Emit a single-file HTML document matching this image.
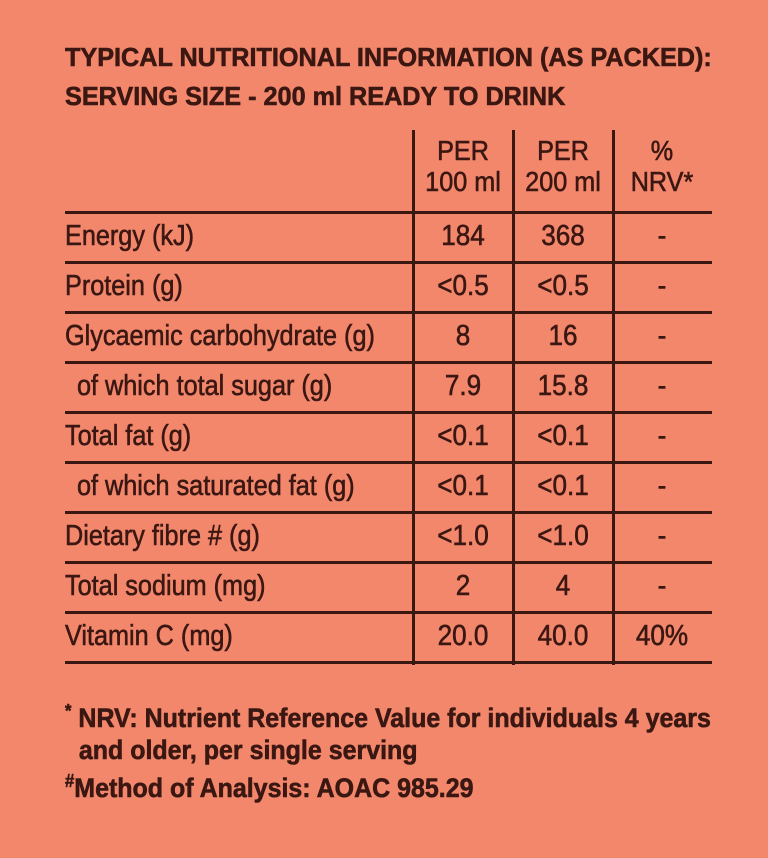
<!DOCTYPE html>
<html><head><meta charset="utf-8"><style>
body{margin:0;width:768px;height:858px;background:#f2876c;overflow:hidden;position:relative;font-family:"Liberation Sans",sans-serif;color:#3b1712}
.t{position:absolute;white-space:nowrap;transform-origin:0 50%;-webkit-text-stroke:0.6px #3b1712}
.c{position:absolute;white-space:nowrap;transform:translateX(-50%) scaleX(0.9);-webkit-text-stroke:0.6px #3b1712}
.h{position:absolute;background:#3b1712}
</style></head><body>
<div class="t" style="left:65px;top:42px;font-size:26px;font-weight:bold;transform:scaleX(0.97)">TYPICAL NUTRITIONAL INFORMATION (AS PACKED):</div>
<div class="t" style="left:65px;top:81px;font-size:26px;font-weight:bold;transform:scaleX(0.97)">SERVING SIZE - 200 ml READY TO DRINK</div>
<div id="tbl"></div>
<div class="t" style="left:65px;top:695px;font-size:27px;line-height:32px;font-weight:bold;transform:scaleX(0.925)"><sup style="font-size:18px">*</sup> NRV: Nutrient Reference Value for individuals 4 years<br>&nbsp;&nbsp;and older, per single serving</div>
<div class="t" style="left:65px;top:771px;font-size:27px;font-weight:bold;transform:scaleX(0.925)"><sup style="font-size:18px">#</sup>Method of Analysis: AOAC 985.29</div>
<script>
const rows=["Energy (kJ)","Protein (g)","Glycaemic carbohydrate (g)","  of which total sugar (g)","Total fat (g)","  of which saturated fat (g)","Dietary fibre # (g)","Total sodium (mg)","Vitamin C (mg)"];
const per100=["184","<0.5","8","7.9","<0.1","<0.1","<1.0","2","20.0"];
const per200=["368","<0.5","16","15.8","<0.1","<0.1","<1.0","4","40.0"];
const nrv=["-","-","-","-","-","-","-","-","40%"];
const T=document.getElementById('tbl');
function add(cls,style,txt,name){const d=document.createElement('div');d.className=cls;d.style.cssText=style;if(txt!==undefined)d.textContent=txt;


T.appendChild(d);}
[413,513,613].forEach((x,i)=>add('h',`left:${x-1}px;top:130px;width:3px;height:535px`,undefined,'column-divider'));
for(let i=0;i<10;i++)add('h',`left:65px;top:${211+i*50}px;width:647px;height:3px`,undefined,'row-divider');
const hdr=[["PER","100 ml",463],["PER","200 ml",563],["%","NRV*",662]];
hdr.forEach(h=>{add('c',`left:${h[2]}px;top:135px;font-size:28px`,h[0],'column-header');add('c',`left:${h[2]}px;top:166px;font-size:28px`,h[1],'column-header');});
rows.forEach((r,i)=>{const y=220+i*50;
add('t',`left:${r.startsWith(' ')?77:65}px;top:${y}px;font-size:29px;transform:scaleX(0.87)`,r.trim(),'row-label');
add('c',`left:463px;top:${y}px;font-size:29px`,per100[i],'value-per-100ml');
add('c',`left:563px;top:${y}px;font-size:29px`,per200[i],'value-per-200ml');
add('c',`left:662px;top:${y}px;font-size:29px`,nrv[i],'value-nrv');});
</script>
</body></html>
